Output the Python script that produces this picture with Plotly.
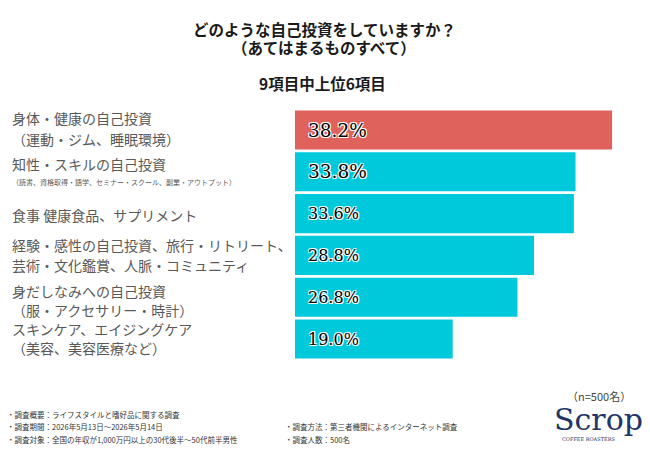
import plotly.graph_objects as go

# data
categories = ["身体・健康", "知性・スキル", "食事", "経験・感性", "身だしなみ", "スキンケア"]
values = [38.2, 33.8, 33.6, 28.8, 26.8, 19.0]
value_labels = ["38.2%", "33.8%", "33.6%", "28.8%", "26.8%", "19.0%"]
label_lines = [
    ["身体・健康の自己投資", "（運動・ジム、睡眠環境）"],
    ["知性・スキルの自己投資", "（読書、資格取得・語学、セミナー・スクール、副業・アウトプット）"],
    ["食事 健康食品、サプリメント"],
    ["経験・感性の自己投資、旅行・リトリート、", "芸術・文化鑑賞、人脈・コミュニティ"],
    ["身だしなみへの自己投資", "（服・アクセサリー・時計）"],
    ["スキンケア、エイジングケア", "（美容、美容医療など）"],
]
title_lines = ["どのような自己投資をしていますか？", "（あてはまるものすべて）"]
subtitle = "9項目中上位6項目"
sample_note = "（n=500名）"
footer_left = [
    "・調査概要：ライフスタイルと嗜好品に関する調査",
    "・調査期間：2026年5月13日～2026年5月14日",
    "・調査対象：全国の年収が1,000万円以上の30代後半～50代前半男性",
]
footer_right = [
    "・調査方法：第三者機関によるインターネット調査",
    "・調査人数：500名",
]

JP = "Noto Sans CJK JP"
SERIF = "DejaVu Serif"
OFF = 8  # page body margin
W, H = 650 - OFF, 450 - OFF
ML, MR, MT, MB = 287, 23, 101, 89
PW, PH = W - ML - MR, H - MT - MB

# reference pixel -> paper coords
def px(x):
    return (x - OFF - ML) / PW

def py(y):
    return (H - MB - (y - OFF)) / PH

colors = ["#DF625C"] + ["#00C9DC"] * (len(values) - 1)

fig = go.Figure()
fig.add_trace(go.Bar(
    y=categories, x=values, orientation="h",
    marker=dict(color=colors, line=dict(width=0)),
    hoverinfo="skip",
))

ann = []
# title
for i, t in enumerate(title_lines):
    ann.append(dict(text=t, x=px(324), y=py(29 + 18 * i), xref="paper", yref="paper",
                    showarrow=False, xanchor="center", yanchor="middle",
                    font=dict(family=JP, size=15.5, color="#1a1a1a", weight="bold")))
ann.append(dict(text=subtitle, x=px(322), y=py(83), xref="paper", yref="paper",
                showarrow=False, xanchor="center", yanchor="middle",
                font=dict(family=JP, size=15.5, color="#1a1a1a", weight="bold")))

# category labels on the left
line_shifts = [(12, -9), (8, -10), (-1,), (10, -10), (6, -13), (10, -9)]
for cat, lines, shifts in zip(categories, label_lines, line_shifts):
    for ln, sh in zip(lines, shifts):
        small = len(ln) > 25
        ann.append(dict(text=ln, x=px(10), y=cat, xref="paper", yref="y",
                        yshift=sh, showarrow=False, xanchor="left", yanchor="middle",
                        font=dict(family=JP, size=7 if small else 14, color="#595959")))

# value labels inside bars
for i, (cat, lab) in enumerate(zip(categories, value_labels)):
    ann.append(dict(text=lab, x=0, y=cat, xref="x", yref="y", xshift=11,
                    showarrow=False, xanchor="left", yanchor="middle",
                    font=dict(family=SERIF, size=18.5 if i < 2 else 16, color="#000000",
                              shadow="1px 1px 0 #fff, -1px -1px 0 #fff, 1px -1px 0 #fff, -1px 1px 0 #fff")))

# footer
ann.append(dict(text=sample_note, x=px(633), y=py(396), xref="paper", yref="paper",
                showarrow=False, xanchor="right", yanchor="middle",
                font=dict(family=JP, size=11, color="#444444")))
for i, t in enumerate(footer_left):
    ann.append(dict(text=t, x=px(5), y=py(414 + 12.5 * i), xref="paper", yref="paper",
                    showarrow=False, xanchor="left", yanchor="middle",
                    font=dict(family=JP, size=7.5, color="#333333")))
for i, t in enumerate(footer_right):
    ann.append(dict(text=t, x=px(283), y=py(426.5 + 12.5 * i), xref="paper", yref="paper",
                    showarrow=False, xanchor="left", yanchor="middle",
                    font=dict(family=JP, size=7.5, color="#333333")))

# logo
ann.append(dict(text="Scrop", x=px(598), y=py(419), xref="paper", yref="paper",
                showarrow=False, xanchor="center", yanchor="middle",
                font=dict(family=SERIF, size=30, color="#1F3566")))
ann.append(dict(text="COFFEE ROASTERS", x=px(588), y=py(439), xref="paper", yref="paper",
                showarrow=False, xanchor="center", yanchor="middle",
                font=dict(family=SERIF, size=5, color="#1F3566")))

fig.update_layout(
    width=W, height=H,
    margin=dict(l=ML, r=MR, t=MT, b=MB),
    paper_bgcolor="white", plot_bgcolor="white",
    showlegend=False,
    bargap=0.065,
    xaxis=dict(range=[0, 40], visible=False, fixedrange=True),
    yaxis=dict(autorange="reversed", visible=False, fixedrange=True),
    annotations=ann,
)

fig.write_html("out.html")
